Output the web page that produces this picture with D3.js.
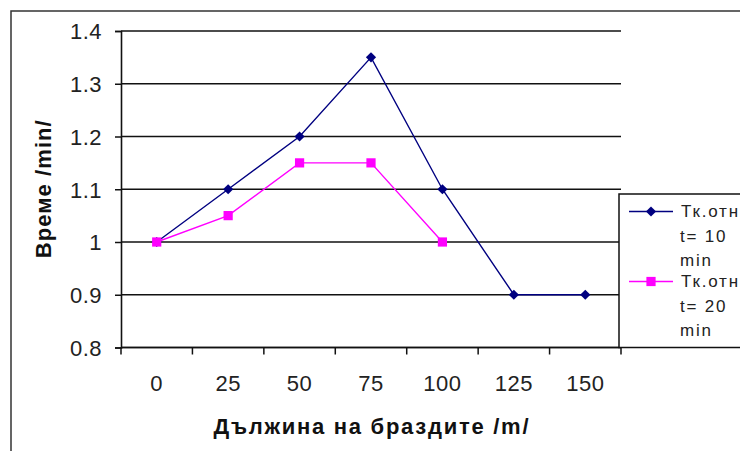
<!DOCTYPE html>
<html>
<head>
<meta charset="utf-8">
<script src="https://cdn.jsdelivr.net/npm/d3@7"></script>
<style>
  html, body { margin: 0; padding: 0; background: #fff; }
  svg { display: block; }
  text { font-family: "Liberation Sans", Arial, sans-serif; }
</style>
</head>
<body>
<script>
// Furrow length categories (m)
const categories = ["0", "25", "50", "75", "100", "125", "150"];
// Time ratio for t = 10 min and t = 20 min
const seriesT10 = [1, 1.1, 1.2, 1.35, 1.1, 0.9, 0.9];
const seriesT20 = [1, 1.05, 1.15, 1.15, 1.0, null, null];
const yTicks = [0.8, 0.9, 1, 1.1, 1.2, 1.3, 1.4];
const seriesNames = [["Тк.отн", "t= 10", "min"], ["Тк.отн", "t= 20", "min"]];

const W = 740, H = 451;
const plot = { left: 121, right: 621, top: 31, bottom: 347.5 };

const svg = d3.select("body").append("svg")
  .attr("width", W).attr("height", H);

svg.append("rect").attr("width", W).attr("height", H).attr("fill", "#fff");

// outer chart frame (runs past the right and bottom edges)
svg.append("rect")
  .attr("x", 11).attr("y", 11)
  .attr("width", W + 20).attr("height", H + 20)
  .attr("fill", "none").attr("stroke", "#333").attr("stroke-width", 1.5);

const x = d3.scaleBand().domain(categories).range([plot.left, plot.right]);
const y = d3.scaleLinear().domain([0.8, 1.4]).range([plot.bottom, plot.top]);

// horizontal gridlines
svg.append("g").selectAll("line").data(yTicks).join("line")
  .attr("x1", plot.left).attr("x2", plot.right)
  .attr("y1", d => y(d)).attr("y2", d => y(d))
  .attr("stroke", "#111").attr("stroke-width", 1.6);

// y axis
const yAxis = svg.append("g")
  .attr("transform", `translate(${plot.left},0)`)
  .call(d3.axisLeft(y).tickValues(yTicks).tickSize(6).tickPadding(13)
    .tickFormat(d => String(d)));
yAxis.select(".domain").attr("stroke", "#111").attr("stroke-width", 1.6);
yAxis.selectAll(".tick line").attr("stroke", "#111").attr("stroke-width", 1.5);
yAxis.selectAll(".tick text")
  .attr("font-size", 22).attr("fill", "#222")
  .attr("font-family", "'Liberation Sans', Arial, sans-serif")
  .attr("letter-spacing", 0.5)
  .attr("dy", "0.36em");

// x axis: ticks on category boundaries, labels at category centres
const xAxis = svg.append("g")
  .attr("transform", `translate(0,${plot.bottom})`);
xAxis.append("line")
  .attr("x1", plot.left).attr("x2", plot.right)
  .attr("stroke", "#111").attr("stroke-width", 1.6);
const boundaries = categories.map(c => x(c)).concat([x(categories[categories.length - 1]) + x.bandwidth()]);
xAxis.selectAll("line.tk").data(boundaries).join("line").attr("class", "tk")
  .attr("x1", d => d).attr("x2", d => d).attr("y1", 0).attr("y2", 7)
  .attr("stroke", "#111").attr("stroke-width", 1.5);
xAxis.selectAll("text").data(categories).join("text")
  .attr("x", d => x(d) + x.bandwidth() / 2)
  .attr("y", 43)
  .attr("text-anchor", "middle")
  .attr("font-size", 22).attr("fill", "#222")
  .attr("letter-spacing", 0.5)
  .text(d => d);

// axis titles
svg.append("text")
  .attr("x", (plot.left + plot.right) / 2).attr("y", 434)
  .attr("text-anchor", "middle")
  .attr("font-size", 22).attr("font-weight", "bold").attr("fill", "#111")
  .attr("textLength", 315).attr("lengthAdjust", "spacing")
  .text("Дължина на браздите /m/");

svg.append("text")
  .attr("transform", `translate(51,${(plot.top + plot.bottom) / 2}) rotate(-90)`)
  .attr("text-anchor", "middle")
  .attr("font-size", 22).attr("font-weight", "bold").attr("fill", "#111")
  .attr("textLength", 138).attr("lengthAdjust", "spacing")
  .text("Време /min/");

// series; the diamond is a square turned by 45 degrees
const cx = d => x(d) + x.bandwidth() / 2;
const series = [
  { values: seriesT10, color: "#000080", marker: d3.symbolSquare, size: 52, rot: 45 },
  { values: seriesT20, color: "#ff00ff", marker: d3.symbolSquare, size: 85, rot: 0 }
];

const line = d3.line()
  .defined(d => d.v != null)
  .x(d => cx(d.c)).y(d => y(d.v));

series.forEach(s => {
  const pts = categories.map((c, i) => ({ c, v: s.values[i] }));
  svg.append("path").datum(pts)
    .attr("d", line)
    .attr("fill", "none").attr("stroke", s.color).attr("stroke-width", 1.4);
  svg.append("g").selectAll("path").data(pts.filter(p => p.v != null)).join("path")
    .attr("transform", p => `translate(${cx(p.c)},${y(p.v)}) rotate(${s.rot})`)
    .attr("d", d3.symbol().type(s.marker).size(s.size))
    .attr("fill", s.color);
});

// legend
const lg = svg.append("g");
lg.append("rect")
  .attr("x", 619).attr("y", 194).attr("width", 200).attr("height", 153.5)
  .attr("fill", "#fff").attr("stroke", "#111").attr("stroke-width", 1.5);

const legendRows = [211.5, 281.5];
series.forEach((s, i) => {
  const ly = legendRows[i];
  lg.append("line")
    .attr("x1", 629).attr("x2", 673).attr("y1", ly).attr("y2", ly)
    .attr("stroke", s.color).attr("stroke-width", 1.4);
  lg.append("path")
    .attr("transform", `translate(651,${ly}) rotate(${s.rot})`)
    .attr("d", d3.symbol().type(s.marker).size(s.size))
    .attr("fill", s.color);
  seriesNames[i].forEach((t, j) => {
    lg.append("text")
      .attr("x", j === 0 ? 681 : 680).attr("y", ly + 5.5 + j * 24.5)
      .attr("font-size", 17).attr("fill", "#222")
      .attr("letter-spacing", 1.8)
      .text(t);
  });
});
</script>
</body>
</html>
